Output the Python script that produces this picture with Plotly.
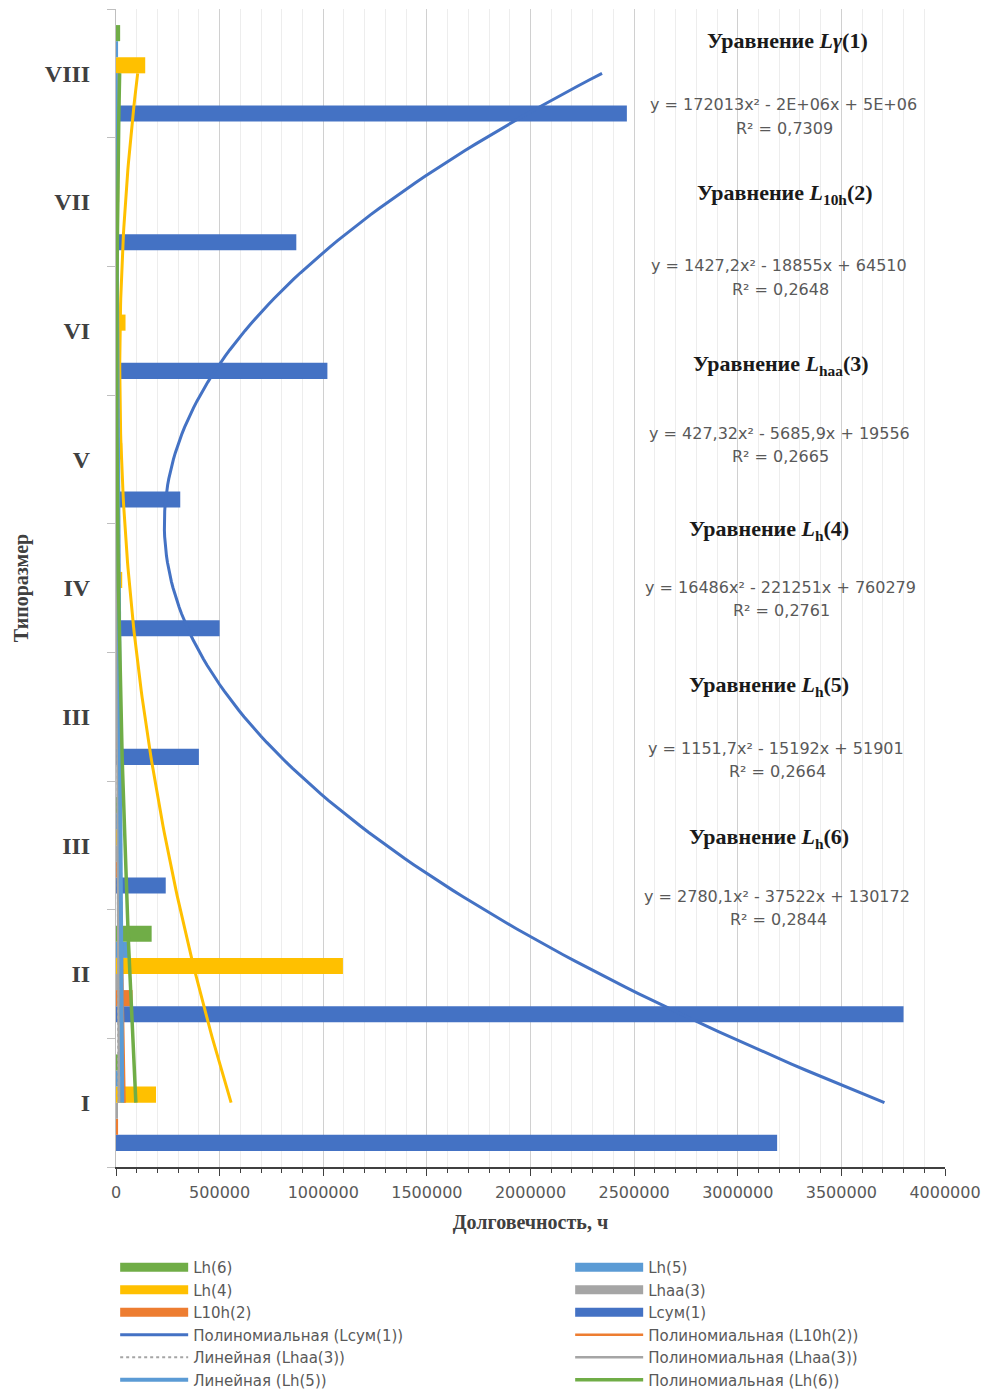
import numpy as np
import plotly.graph_objects as go

# Типоразмеры (категории оси Y)
categories = ["I", "II", "III", "III", "IV", "V", "VI", "VII", "VIII"]

# Долговечность по каждому методу расчёта, ч
l_sum = [3190000, 3800000, 240000, 400000, 500000, 310000, 1020000, 870000, 2465000]
l10h = [10000, 80000, 15000, 5000, 3000, 2000, 2000, 8000, 20000]
lhaa = [5000, 25000, 8000, 3000, 2000, 1000, 1000, 2000, 5000]
lh4 = [193000, 1095000, 20000, 15000, 30000, 30000, 46000, 15000, 141000]
lh5 = [20000, 65000, 12000, 5000, 3000, 2000, 3000, 5000, 10000]
lh6 = [40000, 172000, 15000, 7000, 3000, 2500, 5000, 11000, 20000]

# Подписи уравнений линий тренда
eq_titles = [
    "Уравнение <i>Lγ</i>(1)",
    "Уравнение <i>L</i><sub>10h</sub>(2)",
    "Уравнение <i>L</i><sub>haa</sub>(3)",
    "Уравнение <i>L</i><sub>h</sub>(4)",
    "Уравнение <i>L</i><sub>h</sub>(5)",
    "Уравнение <i>L</i><sub>h</sub>(6)",
]
eq_texts = [
    "y = 172013x² - 2E+06x + 5E+06",
    "y = 1427,2x² - 18855x + 64510",
    "y = 427,32x² - 5685,9x + 19556",
    "y = 16486x² - 221251x + 760279",
    "y = 1151,7x² - 15192x + 51901",
    "y = 2780,1x² - 37522x + 130172",
]
r2_texts = ["R² = 0,7309", "R² = 0,2648", "R² = 0,2665", "R² = 0,2761", "R² = 0,2664", "R² = 0,2844"]

SERIF = "Liberation Serif, Times New Roman, DejaVu Serif, serif"
SANS = "DejaVu Sans, Liberation Sans, sans-serif"
GREY_TEXT = "#595959"

positions = np.arange(1, len(categories) + 1)

fig = go.Figure()

bar_series = [
    ("Lсум(1)", l_sum, "#4472C4", 6),
    ("L10h(2)", l10h, "#ED7D31", 5),
    ("Lhaa(3)", lhaa, "#A5A5A5", 4),
    ("Lh(4)", lh4, "#FFC000", 3),
    ("Lh(5)", lh5, "#5B9BD5", 2),
    ("Lh(6)", lh6, "#70AD47", 1),
]
for name, vals, color, rank in bar_series:
    fig.add_trace(go.Bar(
        x=vals, y=positions, orientation="h", name=name,
        marker=dict(color=color, line=dict(width=0)),
        showlegend=False,
    ))
    # wide swatch for the legend entry of the bar series
    fig.add_trace(go.Scatter(
        x=[None], y=[None], mode="lines", name=name,
        line=dict(color=color, width=9), legendrank=rank,
    ))

# Линии тренда (метод наименьших квадратов по значениям столбцов)
t = np.linspace(positions[0], positions[-1], 161)
trends = [
    ("Полиномиальная (Lсум(1))", l_sum, 2, "#4472C4", "solid", 3, 7, True),
    ("Полиномиальная (L10h(2))", l10h, 2, "#ED7D31", "solid", 2.5, 8, True),
    ("Линейная (Lhaa(3))", lhaa, 1, "#A5A5A5", "dot", 2, 9, True),
    ("Полиномиальная (Lhaa(3))", lhaa, 2, "#A5A5A5", "solid", 2.5, 10, True),
    ("Полиномиальная (Lh(4))", lh4, 2, "#FFC000", "solid", 3, 13, False),
    ("Линейная (Lh(5))", lh5, 1, "#5B9BD5", "solid", 4, 11, True),
    ("Полиномиальная (Lh(6))", lh6, 2, "#70AD47", "solid", 3.5, 12, True),
]
for name, vals, deg, color, dash, width, rank, show in trends:
    coef = np.polyfit(positions, np.asarray(vals, dtype=float), deg)
    fig.add_trace(go.Scatter(
        x=np.polyval(coef, t), y=t, mode="lines", name=name,
        line=dict(color=color, width=width, dash=dash),
        legendrank=rank, showlegend=show,
    ))

# Подписи уравнений справа
title_y = [41, 194, 365, 530, 686, 838]
title_x = [787, 785, 781, 769, 769, 769]
eq_y = [105, 266, 433, 587, 748, 896]
eq_x = [783, 779, 779, 780, 776, 777]
PX_L, PX_W, PX_T, PX_H = 116, 829, 9, 1158


def px(xp):
    return (xp - PX_L) / PX_W


def py(yp):
    return (PX_T + PX_H - yp) / PX_H


annotations = []
for i in range(6):
    annotations.append(dict(
        x=px(title_x[i]), y=py(title_y[i]), xref="paper", yref="paper",
        text=eq_titles[i], showarrow=False, xanchor="center", yanchor="middle",
        font=dict(family=SERIF, size=22, color="#1a1a1a", weight="bold"),
    ))
    annotations.append(dict(
        x=px(eq_x[i]), y=py(eq_y[i]), xref="paper", yref="paper",
        text=eq_texts[i], showarrow=False, xanchor="center", yanchor="middle",
        font=dict(family=SANS, size=16, color=GREY_TEXT),
    ))
    annotations.append(dict(
        x=px(eq_x[i] + 1), y=py(eq_y[i] + 23), xref="paper", yref="paper",
        text=r2_texts[i], showarrow=False, xanchor="center", yanchor="middle",
        font=dict(family=SANS, size=16, color=GREY_TEXT),
    ))

fig.update_layout(
    width=983, height=1391, autosize=False,
    margin=dict(l=116, r=38, t=9, b=224, autoexpand=False),
    paper_bgcolor="white", plot_bgcolor="white",
    barmode="group", bargap=0.25, bargroupgap=0,
    annotations=annotations,
    showlegend=True,
    legend=dict(
        orientation="h", x=-0.001, xanchor="left", y=-0.0725, yanchor="top",
        entrywidth=372, entrywidthmode="pixels", itemwidth=68,
        font=dict(family=SANS, size=15, color=GREY_TEXT),
        bgcolor="rgba(0,0,0,0)",
    ),
    xaxis=dict(
        range=[0, 4000000], dtick=500000, tick0=0, tickformat="d",
        showgrid=True, gridcolor="#D0D0D0", gridwidth=1,
        minor=dict(dtick=100000, showgrid=True, gridcolor="#EDEDED",
                   ticks="outside", ticklen=4, tickcolor="#404040"),
        ticks="outside", ticklen=7, tickcolor="#404040",
        showline=True, linecolor="#404040", linewidth=1.5,
        zeroline=False, ticklabelstandoff=3,
        tickfont=dict(family=SANS, size=16, color=GREY_TEXT),
        title=dict(text="Долговечность, ч", standoff=14,
                   font=dict(family=SERIF, size=20, color="#404040", weight="bold")),
    ),
    yaxis=dict(
        range=[0.5, 9.5], tickmode="array", tickvals=positions, ticktext=categories,
        ticks="", showgrid=False, zeroline=False,
        showline=True, linecolor="#BFBFBF", linewidth=1,
        minor=dict(tickvals=list(np.arange(0.5, 10, 1.0)), ticks="outside",
                   ticklen=8, tickcolor="#BFBFBF", showgrid=False),
        ticklabelstandoff=20,
        tickfont=dict(family=SERIF, size=24, color="#404040", weight="bold"),
        title=dict(text="Типоразмер", standoff=10,
                   font=dict(family=SERIF, size=20, color="#404040", weight="bold")),
    ),
)

fig.write_html("out.html")
